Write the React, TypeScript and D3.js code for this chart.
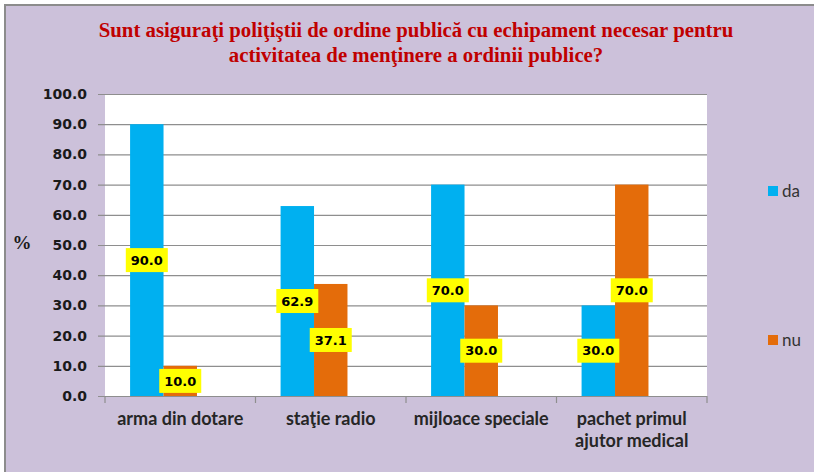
import React, { useEffect, useRef } from "react";
import * as d3 from "d3";

// Chart data
const categories = ["arma din dotare", "staţie radio", "mijloace speciale", "pachet primul ajutor medical"];
const daValues = [90.0, 62.9, 70.0, 30.0];
const nuValues = [10.0, 37.1, 30.0, 70.0];
const seriesNames = ["da", "nu", ""];
const yTicks = [0, 10, 20, 30, 40, 50, 60, 70, 80, 90, 100];
const titleLines = [
  "Sunt asiguraţi poliţiştii de ordine publică cu echipament necesar pentru",
  "activitatea de menţinere a ordinii publice?",
];

const W = 814;
const H = 472;

const App = () => {
  const ref = useRef<SVGSVGElement>(null);

  useEffect(() => {
    const svg = d3.select(ref.current);
    svg.selectAll("*").remove();

    const margin = { top: 94, right: 107, bottom: 76, left: 105 };

    // background + frame (only top/left edges are visible)
    svg.append("rect")
      .attr("x", 0).attr("y", 0).attr("width", W).attr("height", H)
      .attr("fill", "#ffffff");
    svg.append("rect")
      .attr("x", 5).attr("y", 5).attr("width", W + 10).attr("height", H + 10)
      .attr("fill", "#ccc1da")
      .attr("stroke", "#8c8c8c")
      .attr("stroke-width", 2);

    // title
    svg.append("g")
      .selectAll("text")
      .data(titleLines)
      .join("text")
      .attr("x", 416)
      .attr("y", (d, i) => 37 + i * 25)
      .attr("text-anchor", "middle")
      .attr("font-family", "'Liberation Serif', serif")
      .attr("font-weight", "bold")
      .attr("font-size", "20.8px")
      .attr("fill", "#c00000")
      .text(d => d);

    const x0 = d3.scaleBand()
      .domain(categories)
      .range([margin.left, W - margin.right])
      .padding(0);

    const x1 = d3.scaleBand()
      .domain(seriesNames.map((s, i) => s || "s" + i))
      .range([0, x0.bandwidth()])
      .paddingInner(0)
      .paddingOuter(0.75);

    const y = d3.scaleLinear()
      .domain([0, 100])
      .range([H - margin.bottom, margin.top]);

    // plot area
    svg.append("rect")
      .attr("x", margin.left)
      .attr("y", margin.top)
      .attr("width", W - margin.right - margin.left)
      .attr("height", H - margin.bottom - margin.top)
      .attr("fill", "#ffffff");

    // gridlines + y ticks
    const yAxis = svg.append("g")
      .attr("transform", `translate(${margin.left},0)`)
      .call(d3.axisLeft(y)
        .tickValues(yTicks)
        .tickSize(-(W - margin.right - margin.left))
        .tickSizeOuter(0)
        .tickPadding(18)
        .tickFormat(d3.format(".1f")));
    yAxis.select(".domain").remove();
    yAxis.selectAll(".tick line")
      .attr("x1", -7)
      .attr("stroke", "#8e8e8e")
      .attr("stroke-width", 1.2);
    yAxis.selectAll(".tick text")
      .attr("font-family", "'DejaVu Sans', sans-serif")
      .attr("font-weight", "bold")
      .attr("font-size", "14px")
      .attr("fill", "#1a1a1a");

    // y axis title
    svg.append("text")
      .attr("x", 22)
      .attr("y", 249)
      .attr("text-anchor", "middle")
      .attr("font-family", "'Liberation Serif', serif")
      .attr("font-weight", "bold")
      .attr("font-size", "19px")
      .attr("fill", "#1a1a1a")
      .text("%");

    // category tick marks
    const bounds = categories.map(c => x0(c) as number).concat([W - margin.right]);
    svg.append("g")
      .selectAll("line")
      .data(bounds)
      .join("line")
      .attr("x1", d => d).attr("x2", d => d)
      .attr("y1", y(0)).attr("y2", y(0) + 7)
      .attr("stroke", "#8e8e8e")
      .attr("stroke-width", 1.2);

    // bars
    const rows = categories.map((c, i) => ({ cat: c, da: daValues[i], nu: nuValues[i] }));
    const colors: Record<string, string> = { da: "#00b0f0", nu: "#e46c0a" };

    const groups = svg.append("g")
      .selectAll("g")
      .data(rows)
      .join("g")
      .attr("transform", d => `translate(${x0(d.cat)},0)`);

    groups.selectAll("rect")
      .data(d => (["da", "nu"] as const).map(k => ({ key: k, value: d[k] })))
      .join("rect")
      .attr("x", d => x1(d.key) as number)
      .attr("width", x1.bandwidth())
      .attr("y", d => y(d.value))
      .attr("height", d => y(0) - y(d.value))
      .attr("fill", d => colors[d.key]);

    // data labels
    const labels = groups.selectAll("g.lbl")
      .data(d => (["da", "nu"] as const).map(k => ({ key: k, value: d[k] })))
      .join("g")
      .attr("class", "lbl")
      .attr("transform", d => `translate(${(x1(d.key) as number) + x1.bandwidth() / 2},${y(d.value / 2)})`);
    labels.append("rect")
      .attr("x", -21).attr("y", -12).attr("width", 42).attr("height", 24)
      .attr("fill", "#ffff00");
    labels.append("text")
      .attr("text-anchor", "middle")
      .attr("dy", "0.36em")
      .attr("font-family", "'DejaVu Sans', sans-serif")
      .attr("font-weight", "bold")
      .attr("font-size", "13px")
      .attr("fill", "#000000")
      .text(d => d3.format(".1f")(d.value));

    // category labels
    const catLines: Record<string, string[]> = {
      "pachet primul ajutor medical": ["pachet primul", "ajutor medical"],
    };
    svg.append("g")
      .selectAll("text")
      .data(categories)
      .join("text")
      .attr("x", d => (x0(d) as number) + x0.bandwidth() / 2)
      .attr("y", 425)
      .attr("text-anchor", "middle")
      .attr("font-family", "Lato, sans-serif")
      .attr("font-weight", "bold")
      .attr("font-size", "18px")
      .attr("fill", "#262626")
      .each(function (d) {
        const lines = catLines[d] || [d];
        d3.select(this).selectAll("tspan")
          .data(lines)
          .join("tspan")
          .attr("x", (x0(d) as number) + x0.bandwidth() / 2)
          .attr("dy", (l, i) => (i === 0 ? 0 : 22))
          .text(l => l);
      });

    // legend
    const legendY: Record<string, number> = { da: 191, nu: 340 };
    const legend = svg.append("g")
      .selectAll("g")
      .data(["da", "nu"])
      .join("g")
      .attr("transform", d => `translate(768,${legendY[d]})`);
    legend.append("rect")
      .attr("x", 0).attr("y", -5).attr("width", 10).attr("height", 10)
      .attr("fill", d => colors[d]);
    legend.append("text")
      .attr("x", 14)
      .attr("dy", "0.35em")
      .attr("font-family", "Lato, sans-serif")
      .attr("font-size", "17px")
      .attr("fill", "#333333")
      .text(d => d);
  }, []);

  return (
    <div style={{ position: "absolute", left: 0, top: 0 }}>
      <svg ref={ref} width={W} height={H} style={{ display: "block" }} />
    </div>
  );
};

export default App;
